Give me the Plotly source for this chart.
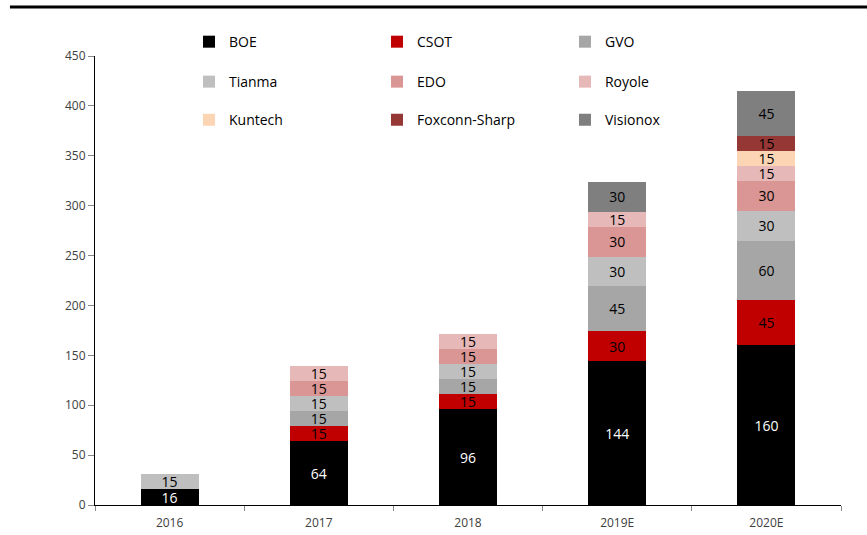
import plotly.graph_objects as go

years = ["2016", "2017", "2018", "2019E", "2020E"]
BOE = [16, 64, 96, 144, 160]
CSOT = [None, 15, 15, 30, 45]
GVO = [None, 15, 15, 45, 60]
Tianma = [15, 15, 15, 30, 30]
EDO = [None, 15, 15, 30, 30]
Royole = [None, 15, 15, 15, 15]
Kuntech = [None, None, None, None, 15]
Foxconn_Sharp = [None, None, None, None, 15]
Visionox = [None, None, None, 30, 45]

series = [
    ("BOE", BOE, "#000000", "white"),
    ("CSOT", CSOT, "#C00000", "black"),
    ("GVO", GVO, "#A6A6A6", "black"),
    ("Tianma", Tianma, "#BFBFBF", "black"),
    ("EDO", EDO, "#D99694", "black"),
    ("Royole", Royole, "#E6B9B8", "black"),
    ("Kuntech", Kuntech, "#FCD5B5", "black"),
    ("Foxconn-Sharp", Foxconn_Sharp, "#953735", "black"),
    ("Visionox", Visionox, "#7F7F7F", "black"),
]

# legend grid: 3 columns x 3 rows (paper coordinates)
leg_x = [0.126, 0.378, 0.630]
leg_y = [1.031, 0.942, 0.857]

fig = go.Figure()
legends = {}
for i, (name, vals, color, tcolor) in enumerate(series):
    lg = "legend" if i == 0 else f"legend{i+1}"
    fig.add_trace(go.Bar(
        x=years, y=vals, name=name, marker=dict(color=color, line=dict(width=0)),
        text=[str(v) if v else "" for v in vals], textposition="inside",
        insidetextanchor="middle", textangle=0, constraintext="none",
        textfont=dict(color=tcolor, size=14, family="Open Sans"),
        legend=lg, showlegend=True,
    ))
    legends[lg] = dict(
        x=leg_x[i % 3], y=leg_y[i // 3], xanchor="left", yanchor="middle",
        orientation="h", font=dict(size=14, family="Open Sans", color="#000000"),
        bgcolor="rgba(0,0,0,0)", borderwidth=0, itemwidth=30,
    )

fig.update_layout(
    width=867, height=535,
    margin=dict(l=95, r=26, t=56, b=30, autoexpand=False),
    showlegend=True,
    plot_bgcolor="white", paper_bgcolor="white",
    barmode="stack", bargap=0.61,
    uniformtext=dict(minsize=14, mode="show"),
    font=dict(family="Open Sans", size=12, color="#404040"),
    xaxis=dict(showline=True, linecolor="black", linewidth=1, ticks="outside",
               tickson="boundaries", ticklen=5, tickcolor="#888888",
               ticklabelstandoff=7,
               tickfont=dict(size=12, color="#404040"), showgrid=False),
    yaxis=dict(range=[0, 450], dtick=50, showline=True, linecolor="black",
               linewidth=1, ticks="outside", ticklen=6, tickcolor="#888888",
               tickfont=dict(size=12, color="#404040"), showgrid=False,
               zeroline=False),
    shapes=[dict(type="line", xref="paper", yref="paper", x0=-0.114, x1=1.05,
                 y0=1.109, y1=1.109, line=dict(color="black", width=3))],
    **legends,
)

fig.write_html("out.html", config={"displayModeBar": False},
               post_script="document.body.style.margin='0px';")
